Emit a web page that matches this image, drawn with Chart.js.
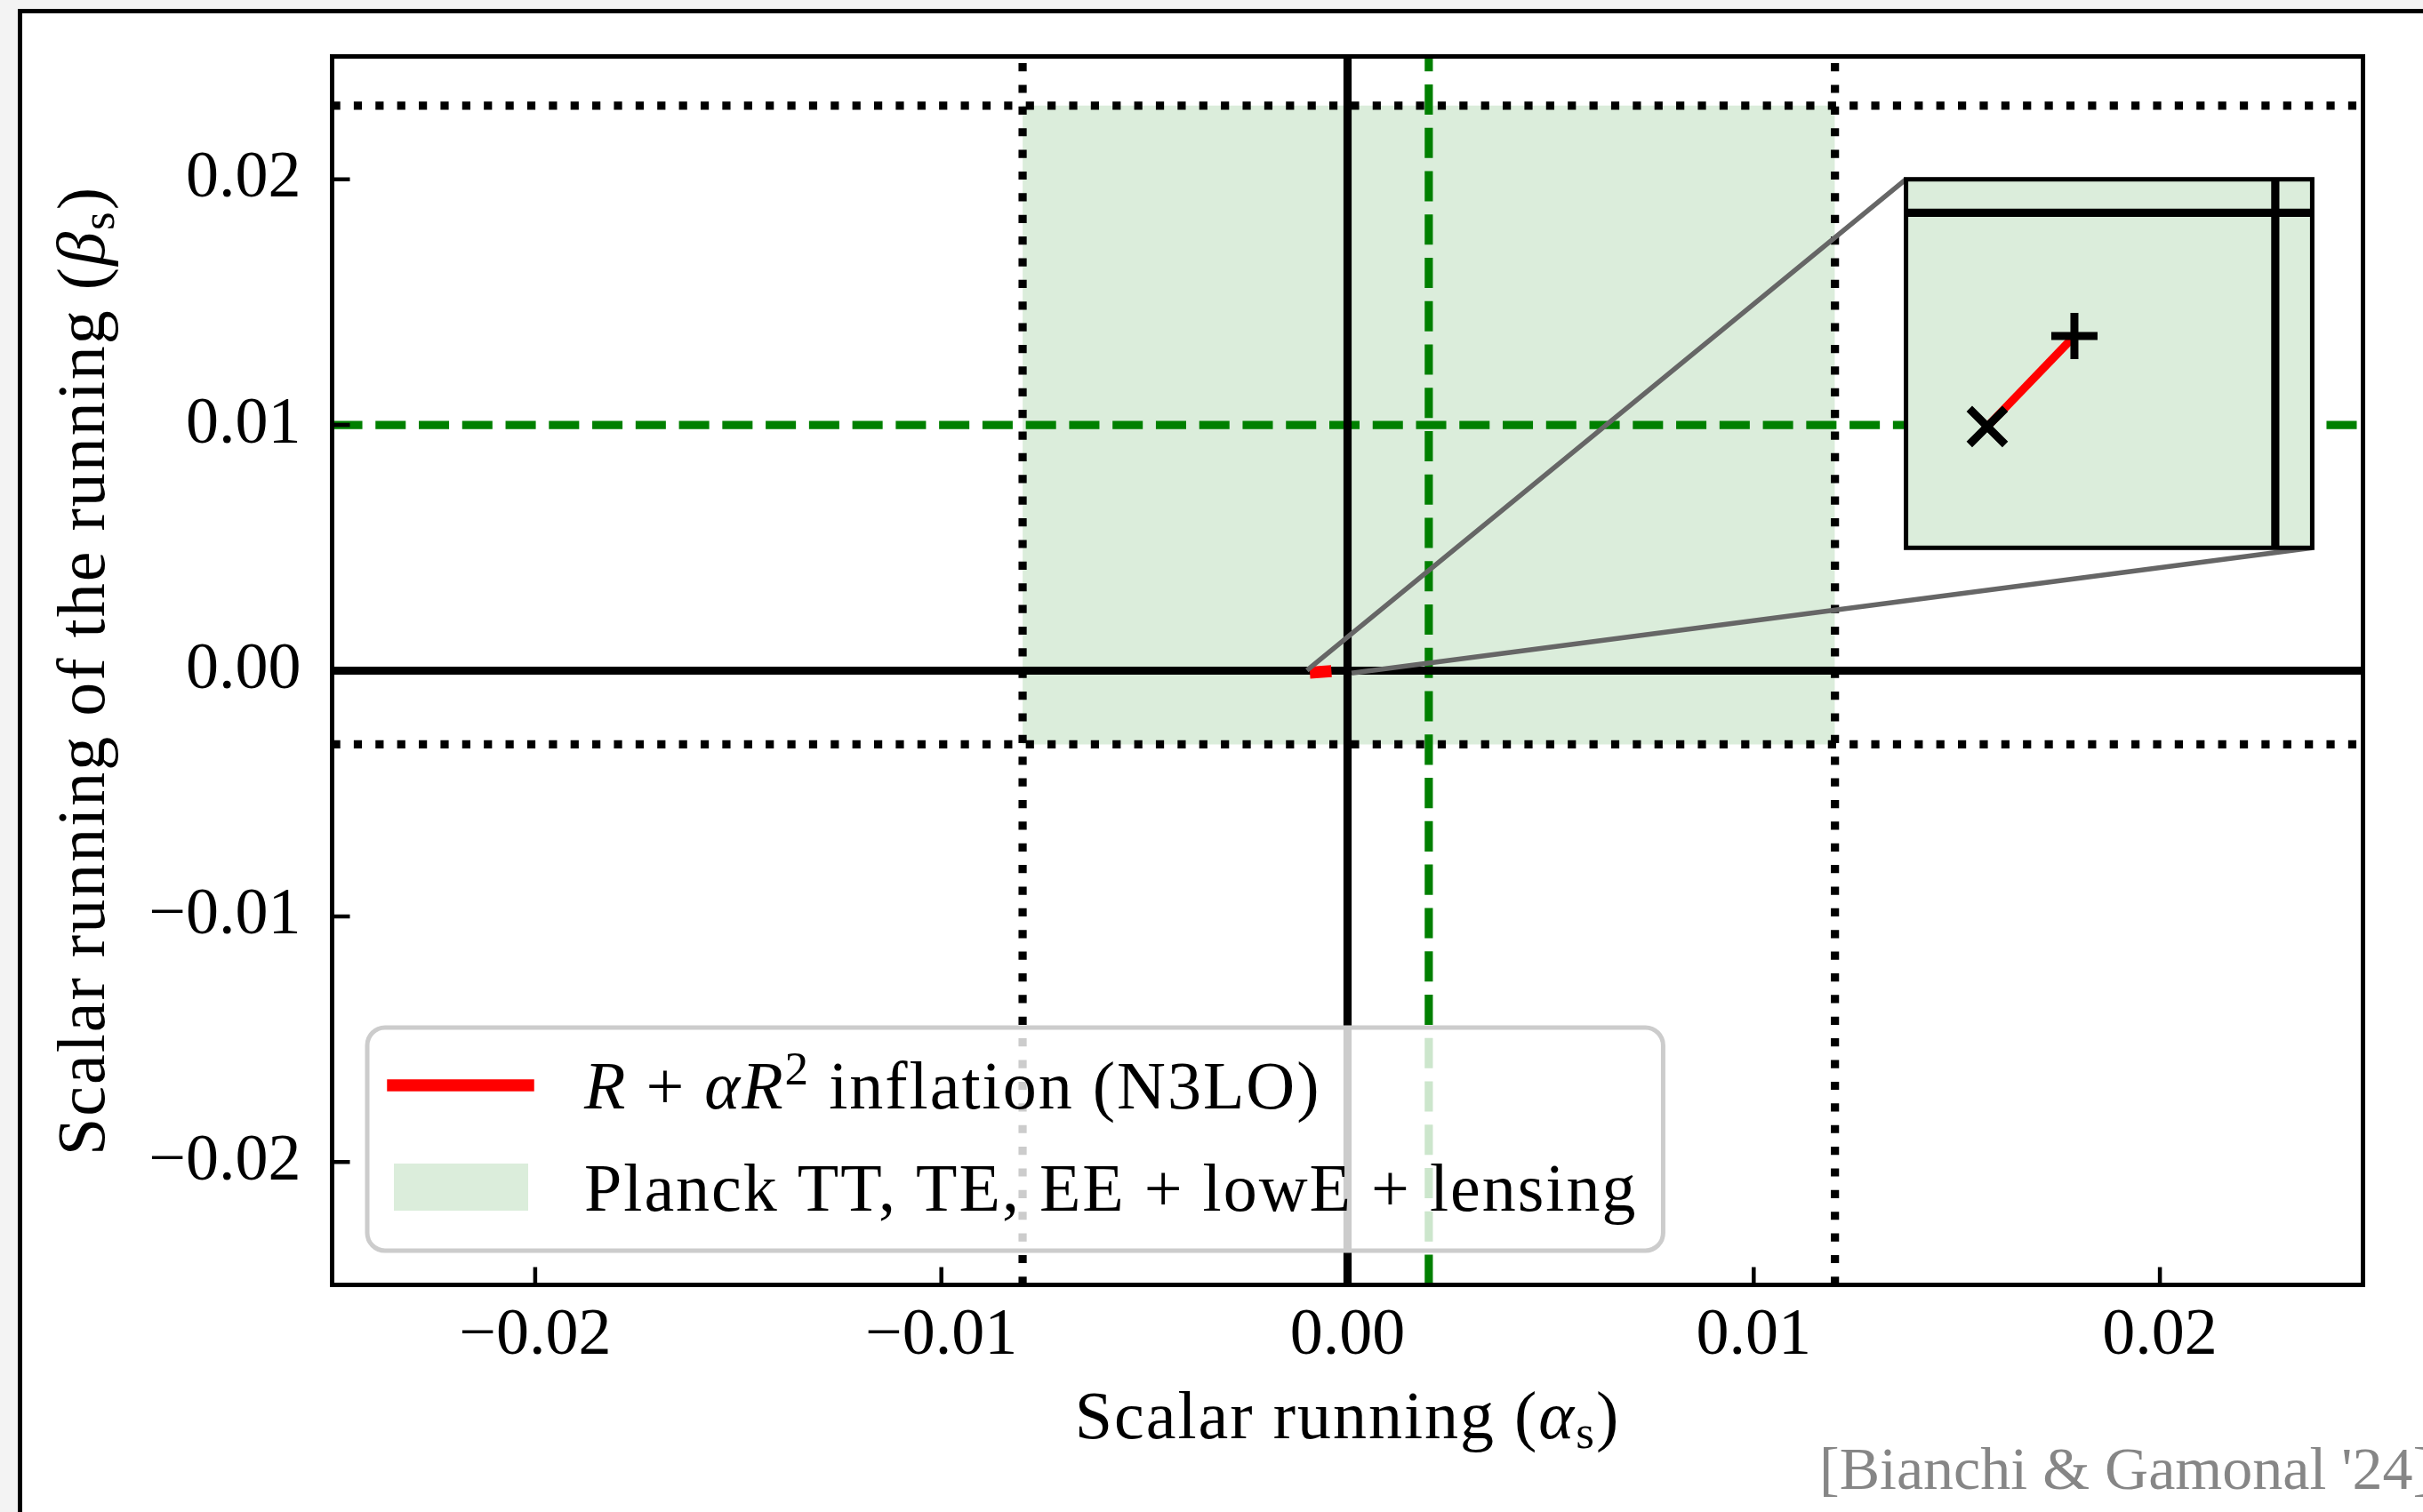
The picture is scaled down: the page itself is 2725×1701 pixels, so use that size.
<!DOCTYPE html>
<html>
<head>
<meta charset="utf-8">
<title>Scalar running vs running of the running</title>
<script src="https://cdn.jsdelivr.net/npm/chart.js@4.4.1/dist/chart.umd.min.js"></script>
<style>
  html, body { margin: 0; padding: 0; overflow: hidden; background: #f3f3f3; width: 2725px; height: 1701px; }
  #frame { position: absolute; left: 20px; top: 10px; width: 3000px; height: 2000px; background: #fff;
           border-left: 5px solid #000; border-top: 5px solid #000; }
  #main { position: absolute; left: 0; top: 0; }
  #inset { position: absolute; }
</style>
</head>
<body>
<div id="frame"></div>
<canvas id="main" width="2725" height="1701"></canvas>
<canvas id="inset"></canvas>
<script>
// axes
const xRange = [-0.025, 0.025];
const yRange = [-0.025, 0.025];
const xTicks = [-0.02, -0.01, 0, 0.01, 0.02];
const yTicks = [-0.02, -0.01, 0, 0.01, 0.02];
const xTickLabels = ['−0.02', '−0.01', '0.00', '0.01', '0.02'];
const yTickLabels = ['−0.02', '−0.01', '0.00', '0.01', '0.02'];

// Planck TT,TE,EE+lowE+lensing bounds (alpha_s, beta_s) and central values
const planckAlpha = [-0.008, 0.012];
const planckBeta = [-0.003, 0.023];
const planckMean = [0.002, 0.01];

// R + alpha R^2 inflation, N3LO prediction
const n3loAlpha = [-0.00078, -0.000544];
const n3loBeta = [-0.0000638, -0.0000368];

// zoomed region shown in the inset
const insetX = [-0.001, 0.0001];
const insetY = [-0.0001, 0.00001];
const insetPos = [0.775, 0.6, 0.2, 0.3]; // axes fraction: left, bottom, width, height

const SERIF = '"Liberation Serif", "Times New Roman", serif';
const GREEN = '#008000';
const FILL = 'rgba(0,128,0,0.14)';
const LW = 9.2;

const xTitleRuns = [['Scalar running (', ''], ['α', 'i'], ['s', 'sub'], [')', '']];
const yTitleRuns = [['Scalar running of the running (', ''], ['β', 'i'], ['s', 'sub'], [')', '']];
const n3loRuns = [['R', 'i'], [' + ', ''], ['α', 'i'], ['R', 'i'], ['2', 'sup'], [' inflation (N3LO)', '']];
const planckRuns = [['Planck TT, TE, EE + lowE + lensing', '']];

const hline = y => [{x: xRange[0], y}, {x: xRange[1], y}];
const vline = x => [{x, y: yRange[0]}, {x, y: yRange[1]}];

function runFont(style, size) {
  const s = (style === 'sub' || style === 'sup') ? size * 0.7 : size;
  return (style === 'i' ? 'italic ' : '') + s + 'px ' + SERIF;
}
function runsWidth(ctx, runs, size) {
  let w = 0;
  runs.forEach(([t, st]) => { ctx.font = runFont(st, size); w += ctx.measureText(t).width; });
  return w;
}
function drawRuns(ctx, runs, x, y, size, align) {
  ctx.letterSpacing = '2px';
  const w = runsWidth(ctx, runs, size);
  let cx = align === 'center' ? x - w / 2 : (align === 'right' ? x - w : x);
  ctx.textAlign = 'left';
  ctx.textBaseline = 'alphabetic';
  runs.forEach(([t, st]) => {
    ctx.font = runFont(st, size);
    const dy = st === 'sub' ? size * 0.15 : (st === 'sup' ? -size * 0.36 : 0);
    ctx.fillText(t, cx, y + dy);
    cx += ctx.measureText(t).width;
  });
  ctx.letterSpacing = '0px';
}

function insetRect(ca) {
  const w = ca.right - ca.left, h = ca.bottom - ca.top;
  return {
    left: ca.left + insetPos[0] * w,
    right: ca.left + (insetPos[0] + insetPos[2]) * w,
    top: ca.bottom - (insetPos[1] + insetPos[3]) * h,
    bottom: ca.bottom - insetPos[1] * h
  };
}

function lineSet(data, color, width, dash, order) {
  return {data, borderColor: color, borderWidth: width, borderDash: dash || [], pointRadius: 0,
          borderCapStyle: dash ? 'butt' : 'square', fill: false, order};
}

const planckSet = () => ({
  data: [{x: planckAlpha[0], y: planckBeta[1]}, {x: planckAlpha[1], y: planckBeta[1]}],
  fill: {value: planckBeta[0]}, backgroundColor: FILL, borderColor: 'transparent', borderWidth: 0,
  pointRadius: 0, order: 10, legendRuns: planckRuns
});
const n3loData = n3loAlpha.map((a, i) => ({x: a, y: n3loBeta[i]}));

const mainDatasets = [
  Object.assign(lineSet(n3loData, '#ff0000', 13.5, null, 1), {legendRuns: n3loRuns}),
  lineSet(hline(0), '#000', LW, null, 2),
  lineSet(vline(0), '#000', LW, null, 2),
  lineSet(hline(planckMean[1]), GREEN, LW, [3.7 * LW, 1.6 * LW], 3),
  lineSet(vline(planckMean[0]), GREEN, LW, [3.7 * LW, 1.6 * LW], 3),
  lineSet(hline(planckBeta[0]), '#000', LW, [LW, 1.65 * LW], 4),
  lineSet(hline(planckBeta[1]), '#000', LW, [LW, 1.65 * LW], 4),
  lineSet(vline(planckAlpha[0]), '#000', LW, [LW, 1.65 * LW], 4),
  lineSet(vline(planckAlpha[1]), '#000', LW, [LW, 1.65 * LW], 4),
  planckSet()
];

// spines, inward ticks and the lines to the inset
const axesDecor = {
  id: 'axesDecor',
  afterDatasetsDraw(chart) {
    const {ctx, chartArea: ca, scales: {x, y}} = chart;
    const box = insetRect(ca);
    ctx.save();
    ctx.strokeStyle = '#666';
    ctx.lineWidth = 5.5;
    ctx.beginPath();
    ctx.moveTo(x.getPixelForValue(insetX[0]), y.getPixelForValue(insetY[1]));
    ctx.lineTo(box.left, box.top);
    ctx.moveTo(x.getPixelForValue(insetX[1]), y.getPixelForValue(insetY[0]));
    ctx.lineTo(box.right, box.bottom);
    ctx.stroke();
    ctx.strokeStyle = '#000';
    ctx.lineWidth = 5;
    ctx.strokeRect(ca.left, ca.top, ca.right - ca.left, ca.bottom - ca.top);
    ctx.lineWidth = 4.5;
    ctx.beginPath();
    x.ticks.forEach(t => {
      const px = x.getPixelForValue(t.value);
      ctx.moveTo(px, ca.bottom); ctx.lineTo(px, ca.bottom - 20);
    });
    y.ticks.forEach(t => {
      const py = y.getPixelForValue(t.value);
      ctx.moveTo(ca.left, py); ctx.lineTo(ca.left + 20, py);
    });
    ctx.stroke();
    ctx.restore();
  }
};

const legendBox = {
  id: 'legendBox',
  afterDatasetsDraw(chart) {
    const {ctx, chartArea: ca} = chart;
    const items = chart.data.datasets.filter(d => d.legendRuns);
    const size = 76;
    ctx.save();
    ctx.letterSpacing = '2px';
    const widths = items.map(d => runsWidth(ctx, d.legendRuns, size));
    ctx.letterSpacing = '0px';
    const left = ca.left + 39.5, bottom = ca.bottom - 38.5, top = bottom - 251;
    const right = left + 244 + Math.max(...widths) + 29;
    ctx.beginPath();
    ctx.roundRect(left, top, right - left, bottom - top, 20);
    ctx.fillStyle = 'rgba(255,255,255,0.8)';
    ctx.fill();
    ctx.strokeStyle = '#cccccc';
    ctx.lineWidth = 5;
    ctx.stroke();
    items.forEach((d, i) => {
      const cy = top + 65 + i * 114.5;
      if (d.fill) {
        ctx.fillStyle = d.backgroundColor;
        ctx.fillRect(left + 30, cy - 26.5, 151, 53);
      } else {
        ctx.strokeStyle = d.borderColor;
        ctx.lineWidth = d.borderWidth;
        ctx.lineCap = 'square';
        ctx.beginPath();
        ctx.moveTo(left + 29, cy); ctx.lineTo(left + 181, cy);
        ctx.stroke();
      }
      ctx.fillStyle = '#000';
      drawRuns(ctx, d.legendRuns, left + 244, cy + 26, size, 'left');
    });
    ctx.restore();
  }
};

const axisTitles = {
  id: 'axisTitles',
  afterDraw(chart) {
    const {ctx, chartArea: ca} = chart;
    ctx.save();
    ctx.fillStyle = '#000';
    drawRuns(ctx, xTitleRuns, (ca.left + ca.right) / 2, ca.bottom + 172.5, 76, 'center');
    ctx.save();
    ctx.translate(117, (ca.top + ca.bottom) / 2);
    ctx.rotate(-Math.PI / 2);
    drawRuns(ctx, yTitleRuns, 0, 0, 76, 'center');
    ctx.restore();
    ctx.fillStyle = '#868686';
    ctx.font = '68px ' + SERIF;
    ctx.textAlign = 'left';
    ctx.fillText('[Bianchi & Gamonal \'24]', 2046, 1675);
    ctx.restore();
  }
};

const tickFont = {family: SERIF, size: 74};

const mainChart = new Chart(document.getElementById('main').getContext('2d'), {
  type: 'line',
  data: {datasets: mainDatasets},
  options: {
    responsive: false,
    animation: false,
    devicePixelRatio: 1,
    events: [],
    layout: {autoPadding: false, padding: {left: 0, top: 63.5, right: 67.5, bottom: 0}},
    plugins: {legend: {display: false}, tooltip: {enabled: false}},
    scales: {
      x: {
        type: 'linear', min: xRange[0], max: xRange[1],
        afterBuildTicks: s => { s.ticks = xTicks.map(value => ({value})); },
        afterFit: s => { s.height = 255.5; s.paddingLeft = 0; s.paddingRight = 0; },
        grid: {display: false}, border: {display: false},
        ticks: {callback: (v, i) => xTickLabels[i], font: tickFont, color: '#000', padding: 6,
                maxRotation: 0, autoSkip: false}
      },
      y: {
        type: 'linear', min: yRange[0], max: yRange[1],
        afterBuildTicks: s => { s.ticks = yTicks.map(value => ({value})); },
        afterFit: s => { s.width = 373.5; s.paddingTop = 0; s.paddingBottom = 0; },
        grid: {display: false}, border: {display: false},
        ticks: {callback: (v, i) => yTickLabels[i], font: tickFont, color: '#000', padding: 27,
                autoSkip: false}
      }
    }
  },
  plugins: [axesDecor, legendBox, axisTitles]
});

// inset axes placed on the main chart area
const box = insetRect(mainChart.chartArea);
const pad = 4;
const cLeft = Math.floor(box.left) - pad, cTop = Math.floor(box.top) - pad;
const cW = Math.ceil(box.right) + pad - cLeft, cH = Math.ceil(box.bottom) + pad - cTop;
const insetCanvas = document.getElementById('inset');
insetCanvas.width = cW; insetCanvas.height = cH;
insetCanvas.style.left = cLeft + 'px'; insetCanvas.style.top = cTop + 'px';
insetCanvas.style.width = cW + 'px'; insetCanvas.style.height = cH + 'px';

const insetFrame = {
  id: 'insetFrame',
  beforeDraw(chart) {
    const {ctx, chartArea: ca} = chart;
    ctx.save();
    ctx.fillStyle = '#fff';
    ctx.fillRect(ca.left, ca.top, ca.right - ca.left, ca.bottom - ca.top);
    ctx.restore();
  },
  afterDatasetsDraw(chart) {
    const {ctx, chartArea: ca} = chart;
    ctx.save();
    ctx.strokeStyle = '#000';
    ctx.lineWidth = 5;
    ctx.strokeRect(ca.left, ca.top, ca.right - ca.left, ca.bottom - ca.top);
    ctx.restore();
  }
};

new Chart(insetCanvas.getContext('2d'), {
  type: 'line',
  data: {
    datasets: [
      lineSet(n3loData, '#ff0000', LW, null, 2),
      {data: [n3loData[0]], showLine: false, pointStyle: 'crossRot', pointRadius: 28.5,
       pointBorderWidth: 9, pointBorderColor: '#000', order: 1},
      {data: [n3loData[1]], showLine: false, pointStyle: 'cross', pointRadius: 26,
       pointBorderWidth: 9, pointBorderColor: '#000', order: 1},
      lineSet(hline(0), '#000', LW, null, 3),
      lineSet(vline(0), '#000', LW, null, 3),
      planckSet()
    ]
  },
  options: {
    responsive: false,
    animation: false,
    devicePixelRatio: 1,
    events: [],
    layout: {autoPadding: false,
             padding: {left: box.left - cLeft, top: box.top - cTop,
                       right: cLeft + cW - box.right, bottom: cTop + cH - box.bottom}},
    plugins: {legend: {display: false}, tooltip: {enabled: false}},
    scales: {
      x: {type: 'linear', min: insetX[0], max: insetX[1], display: false},
      y: {type: 'linear', min: insetY[0], max: insetY[1], display: false}
    }
  },
  plugins: [insetFrame]
});
</script>
</body>
</html>
